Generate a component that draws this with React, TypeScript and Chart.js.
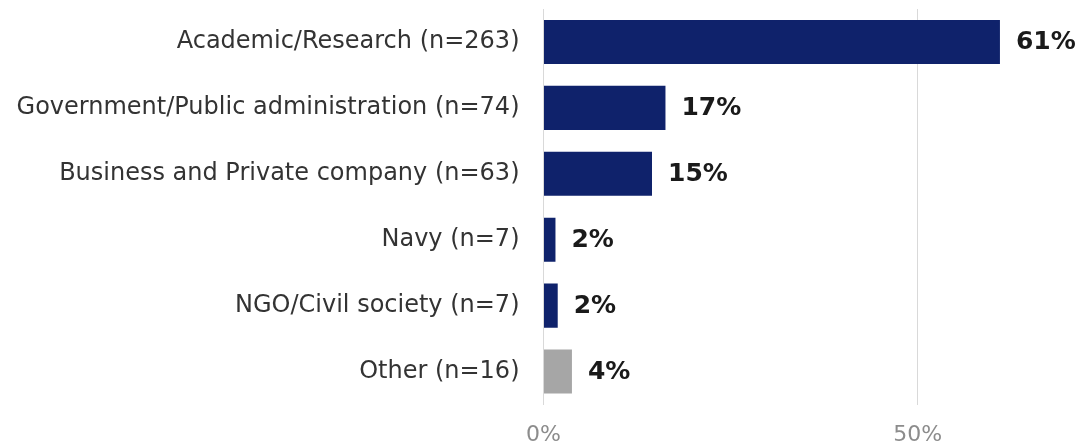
import React, { useEffect, useRef } from "react";
import { Chart, registerables } from "chart.js";

Chart.register(...registerables);

const categories = [
  "Academic/Research (n=263)",
  "Government/Public administration (n=74)",
  "Business and Private company (n=63)",
  "Navy (n=7)",
  "NGO/Civil society (n=7)",
  "Other (n=16)",
];
const percentages = [61.0, 16.3, 14.5, 1.6, 1.9, 3.8];
const valueLabels = ["61%", "17%", "15%", "2%", "2%", "4%"];
const barColors = ["#0f226b", "#0f226b", "#0f226b", "#0f226b", "#0f226b", "#a6a6a6"];
const xTickValues = [0, 50];

const valueLabelPlugin = {
  id: "valueLabels",
  afterDatasetsDraw(chart: any) {
    const ctx = chart.ctx;
    const meta = chart.getDatasetMeta(0);
    ctx.save();
    ctx.font = "bold 25px 'DejaVu Sans'";
    ctx.fillStyle = "#1a1a1a";
    ctx.textAlign = "left";
    ctx.textBaseline = "middle";
    meta.data.forEach((bar: any, i: number) => {
      ctx.fillText(valueLabels[i], bar.x + 16, bar.y + 1);
    });
    ctx.restore();
  },
};

export default function App() {
  const canvasRef = useRef<HTMLCanvasElement | null>(null);

  useEffect(() => {
    if (!canvasRef.current) return;
    const chart = new Chart(canvasRef.current, {
      type: "bar",
      data: {
        labels: categories,
        datasets: [
          {
            data: percentages,
            backgroundColor: barColors,
            borderWidth: 0,
            categoryPercentage: 1,
            barPercentage: 0.67,
          },
        ],
      },
      options: {
        indexAxis: "y",
        animation: false,
        responsive: false,
        maintainAspectRatio: false,
        layout: { padding: { top: 9, right: 0, bottom: 0, left: 0 } },
        plugins: {
          legend: { display: false },
          tooltip: { enabled: false },
          title: { display: false },
        },
        scales: {
          x: {
            min: 0,
            max: 72.1,
            afterBuildTicks: (scale: any) => {
              scale.ticks = xTickValues.map((v) => ({ value: v }));
            },
            afterFit: (scale: any) => {
              scale.height = 38.5;
              scale.paddingLeft = 0;
              scale.paddingRight = 0;
            },
            grid: { color: "#d9d9d9", lineWidth: 1, drawTicks: false },
            border: { display: false },
            ticks: {
              padding: 18,
              color: "#8c8c8c",
              font: { family: "'DejaVu Sans'", size: 22 },
              callback: (v: any) => v + "%",
            },
          },
          y: {
            afterFit: (scale: any) => {
              scale.width = 543.5;
              scale.paddingTop = 0;
              scale.paddingBottom = 0;
            },
            grid: { display: false, drawTicks: false },
            border: { display: false },
            ticks: {
              padding: 24,
              color: "#333333",
              font: { family: "'DejaVu Sans'", size: 24 },
            },
          },
        },
      },
      plugins: [valueLabelPlugin],
    });
    return () => chart.destroy();
  }, []);

  return (
    <div style={{ position: "absolute", left: 0, top: 0, width: 1083, height: 443, background: "#fff" }}>
      <canvas ref={canvasRef} width={1083} height={443} style={{ display: "block" }} />
    </div>
  );
}
